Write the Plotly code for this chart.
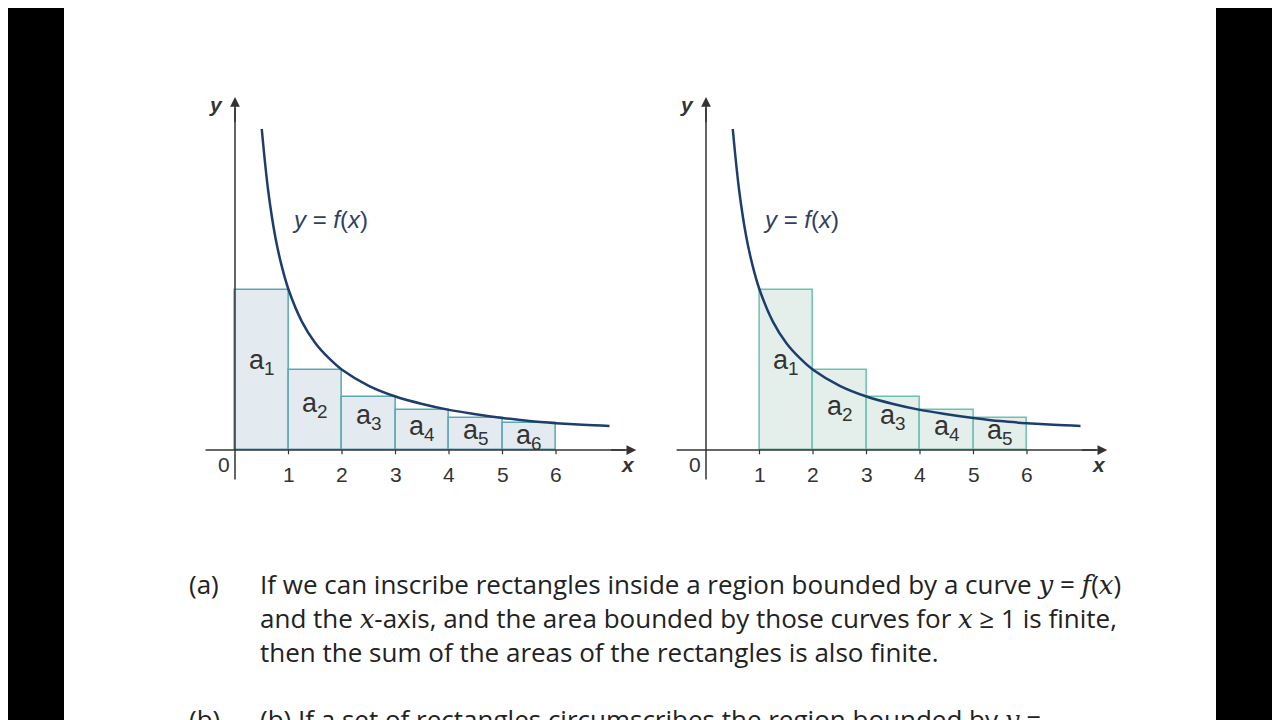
import plotly.graph_objects as go

# curve y = f(x)
curve_x = [0.5, 0.62, 0.75, 0.87, 1.0, 1.25, 1.5, 1.75, 2.0, 2.5, 3.0, 3.5, 4.0, 4.5, 5.0, 5.5, 6.0, 6.5, 7.0]
curve_y = [6.0, 4.85, 4.0, 3.45, 3.0, 2.4, 2.0, 1.72, 1.5, 1.2, 1.0, 0.86, 0.75, 0.67, 0.6, 0.54, 0.5, 0.47, 0.45]

# (a) inscribed rectangles
left_a = [0, 1, 2, 3, 4, 5]
height_a = [3.0, 1.5, 1.0, 0.75, 0.6, 0.5]
label_y_a = [1.65, 0.84, 0.62, 0.42, 0.34, 0.24]
# (b) circumscribed rectangles
left_b = [1, 2, 3, 4, 5]
height_b = [3.0, 1.5, 1.0, 0.75, 0.6]
label_y_b = [1.65, 0.78, 0.62, 0.42, 0.34]
ticks = [1, 2, 3, 4, 5, 6]

OFF = 8  # page body margin
W, H = 1280, 720
XR = [-0.6, 7.5]
YR = [-0.6, 6.6]
UNIT = 53.5
AXIS = "#333333"
CURVE = "#1d3d6b"
LFONT = "Liberation Sans, Arial, sans-serif"

fig = go.Figure()

def dom_x(origin_px):
    o = origin_px - OFF
    return [(o + XR[0] * UNIT) / W, (o + XR[1] * UNIT) / W]

y0px = 450 - OFF
yd = [(H - (y0px - YR[0] * UNIT)) / H, (H - (y0px - YR[1] * UNIT)) / H]

panels = [
    ("x", "y", 235, left_a, height_a, label_y_a, "#e3ebf1", "#5aa7b3", "(a)"),
    ("x2", "y2", 706, left_b, height_b, label_y_b, "#e4efec", "#6cc0b0", "(b)"),
]

layout = dict(width=W, height=H, margin=dict(l=0, r=0, t=0, b=0),
              paper_bgcolor="white", plot_bgcolor="white", showlegend=False,
              bargap=0)
annotations = []
shapes = []
for i, (xa, ya, org, lefts, hs, lys, fill, edge, tag) in enumerate(panels):
    sfx = "" if i == 0 else "2"
    layout["xaxis" + sfx] = dict(domain=dom_x(org), range=XR, visible=False, anchor=ya)
    layout["yaxis" + sfx] = dict(domain=yd, range=YR, visible=False, anchor=xa)
    fig.add_trace(go.Bar(x=[l + 0.5 for l in lefts], y=hs, width=1, xaxis=xa, yaxis=ya,
                         marker=dict(color=fill, line=dict(color=edge, width=1.5))))
    fig.add_trace(go.Scatter(x=curve_x, y=curve_y, mode="lines", xaxis=xa, yaxis=ya,
                             line=dict(color=CURVE, width=2.5, shape="spline")))
    shapes.append(dict(type="line", xref=xa, yref=ya, x0=-0.55, x1=7.3, y0=0, y1=0,
                       line=dict(color=AXIS, width=1.5)))
    shapes.append(dict(type="line", xref=xa, yref=ya, x0=0, x1=0, y0=-0.55, y1=6.4,
                       line=dict(color=AXIS, width=1.5)))
    for t in ticks:
        shapes.append(dict(type="line", xref=xa, yref=ya, x0=t, x1=t, y0=0, y1=-0.08,
                           line=dict(color=AXIS, width=1.2)))
        annotations.append(dict(x=t, y=-0.45, xref=xa, yref=ya, text=str(t), showarrow=False,
                                font=dict(family=LFONT, size=21, color=AXIS)))
    annotations.append(dict(x=7.5, y=0, xref=xa, yref=ya, ax=7.0, ay=0, axref=xa, ayref=ya,
                            text="", showarrow=True, arrowhead=2, arrowsize=1.3,
                            arrowwidth=1.5, arrowcolor=AXIS))
    annotations.append(dict(x=0, y=6.6, xref=xa, yref=ya, ax=0, ay=6.1, axref=xa, ayref=ya,
                            text="", showarrow=True, arrowhead=2, arrowsize=1.3,
                            arrowwidth=1.5, arrowcolor=AXIS))
    annotations.append(dict(x=-0.2, y=-0.28, xref=xa, yref=ya, text="0", showarrow=False,
                            font=dict(family=LFONT, size=21, color=AXIS)))
    annotations.append(dict(x=7.35, y=-0.28, xref=xa, yref=ya, text="<b><i>x</i></b>", showarrow=False,
                            font=dict(family=LFONT, size=21, color=AXIS)))
    annotations.append(dict(x=-0.35, y=6.45, xref=xa, yref=ya, text="<b><i>y</i></b>", showarrow=False,
                            font=dict(family=LFONT, size=21, color=AXIS)))
    annotations.append(dict(x=1.78, y=4.3, xref=xa, yref=ya, text="<i>y</i> = <i>f</i>(<i>x</i>)",
                            showarrow=False, font=dict(family=LFONT, size=24, color="#2f3f5f")))
    annotations.append(dict(x=3.5, y=-1.3, xref=xa, yref=ya, text=tag, showarrow=False,
                            font=dict(family=LFONT, size=23, color=AXIS)))
    for k, (l, ly) in enumerate(zip(lefts, lys)):
        annotations.append(dict(x=l + 0.5, y=ly, xref=xa, yref=ya, text="a<sub>%d</sub>" % (k + 1),
                                showarrow=False, font=dict(family=LFONT, size=27, color=AXIS)))

# black side bands
shapes.append(dict(type="rect", xref="paper", yref="paper", x0=0, x1=(64 - OFF) / W, y0=0, y1=1,
                   fillcolor="black", line=dict(width=0), layer="above"))
shapes.append(dict(type="rect", xref="paper", yref="paper", x0=(1216 - OFF) / W, x1=1, y0=0, y1=1,
                   fillcolor="black", line=dict(width=0), layer="above"))

TFONT = "Open Sans, DejaVu Sans, sans-serif"
M = "<span style='font-family:DejaVu Serif, serif'><i>%s</i></span>"
lines = [
    (187, 584, "(a)"),
    (258, 584, "If we can inscribe rectangles inside a region bounded by a curve " + M % "y" + " = " + M % "f" + "(" + M % "x" + ")"),
    (258, 618, "and the " + M % "x" + "-axis, and the area bounded by those curves for " + M % "x" + " ≥ 1 is finite,"),
    (258, 652, "then the sum of the areas of the rectangles is also finite."),
    (187, 719, "(b)"),
    (258, 719, "(b) If a set of rectangles circumscribes the region bounded by " + M % "y" + " ="),
]
for px, py, txt in lines:
    annotations.append(dict(x=(px - OFF) / W, y=1 - (py - OFF) / H, xref="paper", yref="paper", text=txt,
                            showarrow=False, xanchor="left", yanchor="middle",
                            font=dict(family=TFONT, size=26, color="#222222")))

layout["annotations"] = annotations
layout["shapes"] = shapes
fig.update_layout(**layout)
fig.write_html("out.html")
